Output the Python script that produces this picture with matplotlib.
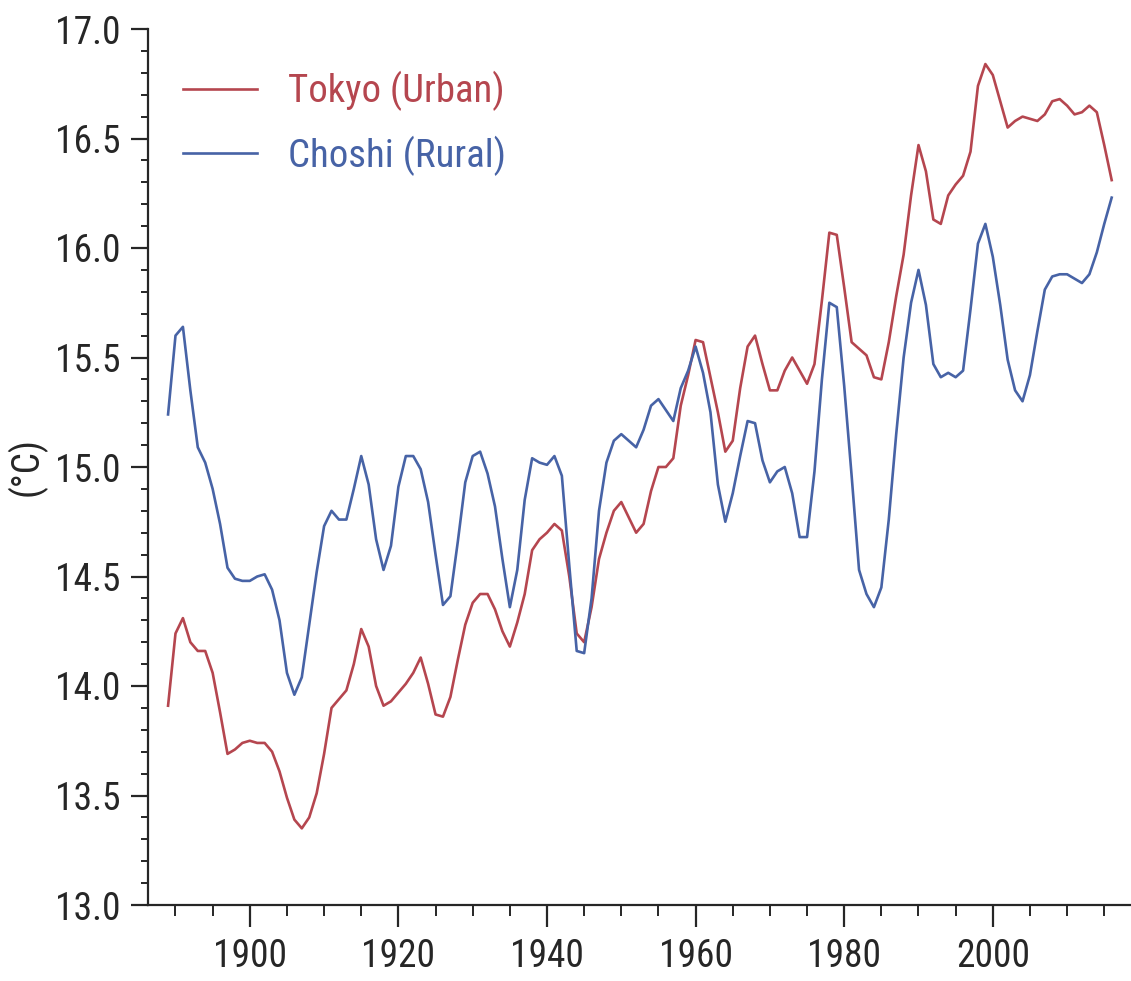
import matplotlib
matplotlib.use("Agg")
import matplotlib.pyplot as plt
from matplotlib.ticker import MultipleLocator
from matplotlib import font_manager
import numpy as np

years = list(range(1889, 2017))

tokyo = [
    13.91, 14.24, 14.31, 14.20, 14.16, 14.16, 14.06, 13.88, 13.69, 13.71,  # 1889-1898
    13.74, 13.75, 13.74, 13.74, 13.70, 13.61, 13.49, 13.39, 13.35, 13.40,  # 1899-1908
    13.51, 13.69, 13.90, 13.94, 13.98, 14.10, 14.26, 14.18, 14.00, 13.91,  # 1909-1918
    13.93, 13.97, 14.01, 14.06, 14.13, 14.01, 13.87, 13.86, 13.95, 14.12,  # 1919-1928
    14.28, 14.38, 14.42, 14.42, 14.35, 14.25, 14.18, 14.29, 14.42, 14.62,  # 1929-1938
    14.67, 14.70, 14.74, 14.71, 14.50, 14.24, 14.20, 14.36, 14.58, 14.70,  # 1939-1948
    14.80, 14.84, 14.77, 14.70, 14.74, 14.89, 15.00, 15.00, 15.04, 15.28,  # 1949-1958
    15.42, 15.58, 15.57, 15.41, 15.25, 15.07, 15.12, 15.36, 15.55, 15.60,  # 1959-1968
    15.47, 15.35, 15.35, 15.44, 15.50, 15.44, 15.38, 15.47, 15.76, 16.07,  # 1969-1978
    16.06, 15.82, 15.57, 15.54, 15.51, 15.41, 15.40, 15.57, 15.78, 15.97,  # 1979-1988
    16.24, 16.47, 16.35, 16.13, 16.11, 16.24, 16.29, 16.33, 16.44, 16.74,  # 1989-1998
    16.84, 16.79, 16.67, 16.55, 16.58, 16.60, 16.59, 16.58, 16.61, 16.67,  # 1999-2008
    16.68, 16.65, 16.61, 16.62, 16.65, 16.62, 16.47, 16.31,                # 2009-2016
]

choshi = [
    15.24, 15.60, 15.64, 15.35, 15.09, 15.02, 14.90, 14.74, 14.54, 14.49,  # 1889-1898
    14.48, 14.48, 14.50, 14.51, 14.44, 14.30, 14.06, 13.96, 14.04, 14.28,  # 1899-1908
    14.52, 14.73, 14.80, 14.76, 14.76, 14.90, 15.05, 14.92, 14.67, 14.53,  # 1909-1918
    14.64, 14.91, 15.05, 15.05, 14.99, 14.84, 14.60, 14.37, 14.41, 14.66,  # 1919-1928
    14.93, 15.05, 15.07, 14.97, 14.82, 14.58, 14.36, 14.53, 14.85, 15.04,  # 1929-1938
    15.02, 15.01, 15.05, 14.96, 14.55, 14.16, 14.15, 14.40, 14.80, 15.02,  # 1939-1948
    15.12, 15.15, 15.12, 15.09, 15.17, 15.28, 15.31, 15.26, 15.21, 15.36,  # 1949-1958
    15.44, 15.55, 15.43, 15.25, 14.92, 14.75, 14.88, 15.05, 15.21, 15.20,  # 1959-1968
    15.03, 14.93, 14.98, 15.00, 14.88, 14.68, 14.68, 14.98, 15.40, 15.75,  # 1969-1978
    15.73, 15.37, 14.96, 14.53, 14.42, 14.36, 14.45, 14.76, 15.15, 15.50,  # 1979-1988
    15.75, 15.90, 15.74, 15.47, 15.41, 15.43, 15.41, 15.44, 15.72, 16.02,  # 1989-1998
    16.11, 15.96, 15.74, 15.49, 15.35, 15.30, 15.42, 15.62, 15.81, 15.87,  # 1999-2008
    15.88, 15.88, 15.86, 15.84, 15.88, 15.98, 16.11, 16.23,                # 2009-2016
]

labels = ["Tokyo (Urban)", "Choshi (Rural)"]
y_ticks = [13.0, 13.5, 14.0, 14.5, 15.0, 15.5, 16.0, 16.5, 17.0]
x_ticks = [1900, 1920, 1940, 1960, 1980, 2000]

installed = {f.name for f in font_manager.fontManager.ttflist}
cands = ['Liberation Sans Narrow', 'Roboto Condensed', 'Open Sans Condensed',
         'Liberation Sans', 'DejaVu Sans']
fams = [c for c in cands if c in installed] or ['DejaVu Sans']
narrow = fams[0] in ('Liberation Sans Narrow', 'Roboto Condensed', 'Open Sans Condensed')
if 'DejaVu Sans' not in fams:
    fams.append('DejaVu Sans')
plt.rcParams['font.family'] = fams

fs_tick = 27 if narrow else 24
fs_leg = 28 if narrow else 25

red = '#b5464f'
blue = '#4763a6'
dark = '#262626'

fig = plt.figure(figsize=(11.31, 9.81), dpi=100)
ax = fig.add_axes([148 / 1131, 76 / 981, (1131 - 148) / 1131, 876 / 981])

ax.plot(years, tokyo, color=red, lw=1.9, label=labels[0])
ax.plot(years, choshi, color=blue, lw=1.9, label=labels[1])

ax.set_xlim(1886.3, 2018.6)
ax.set_ylim(13.0, 17.0)

ax.set_yticks(y_ticks)
ax.set_yticklabels([f"{v:.1f}" for v in y_ticks])
ax.set_xticks(x_ticks)
ax.set_xticklabels([str(v) for v in x_ticks])
ax.xaxis.set_minor_locator(MultipleLocator(5))
ax.yaxis.set_minor_locator(MultipleLocator(0.1))

for s in ['top', 'right']:
    ax.spines[s].set_visible(False)
for s in ['left', 'bottom']:
    ax.spines[s].set_linewidth(1.6)
    ax.spines[s].set_color(dark)

ax.tick_params(axis='y', which='major', length=12, width=1.6, pad=8,
               labelsize=fs_tick, colors=dark)
ax.tick_params(axis='y', which='minor', length=5, width=1.4, colors=dark)
ax.tick_params(axis='x', which='major', length=16, width=1.6, pad=8,
               labelsize=fs_tick, colors=dark)
ax.tick_params(axis='x', which='minor', length=8, width=1.4, colors=dark)

ax.set_ylabel("(°C)", fontsize=fs_tick, color=dark)
ax.yaxis.set_label_coords(-0.103, 0.5)

leg = ax.legend(loc='upper left', bbox_to_anchor=(0.0356, 0.952),
                frameon=False, fontsize=fs_leg, handlelength=1.9,
                handletextpad=0.8, labelspacing=0.62, borderaxespad=0,
                borderpad=0, labelcolor='linecolor')

fig.savefig("out.png", dpi=100, facecolor='white')
